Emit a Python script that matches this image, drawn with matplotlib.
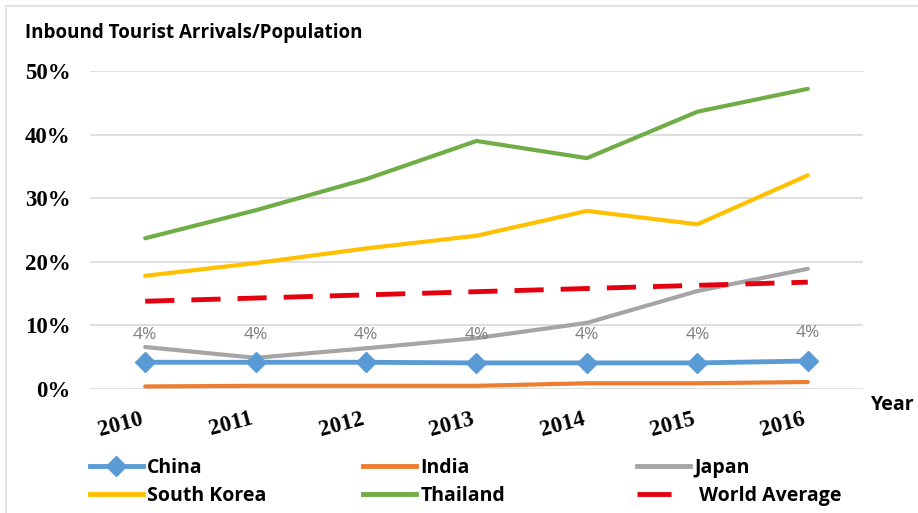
import matplotlib.pyplot as plt
from matplotlib.lines import Line2D

years = ['2010', '2011', '2012', '2013', '2014', '2015', '2016']

# arrivals as % of population
china = [4.2, 4.2, 4.2, 4.1, 4.1, 4.1, 4.4]
india = [0.4, 0.5, 0.5, 0.5, 0.9, 0.9, 1.1]
japan = [6.6, 4.9, 6.4, 8.0, 10.4, 15.4, 18.9]
south_korea = [17.8, 19.8, 22.1, 24.1, 28.0, 25.9, 33.6]
thailand = [23.7, 28.1, 33.0, 39.0, 36.3, 43.6, 47.2]
world_avg = [13.8, 14.3, 14.8, 15.3, 15.8, 16.3, 16.8]
china_labels = ['4%', '4%', '4%', '4%', '4%', '4%', '4%']

sans = ['Open Sans', 'DejaVu Sans']
serif = ['Liberation Serif', 'DejaVu Serif']

fig = plt.figure(figsize=(9.18, 5.13), dpi=100)
ax = fig.add_axes([90 / 918, 1 - 389 / 513, (863 - 90) / 918, (389 - 71) / 513])

x = list(range(len(years)))
ax.plot(x, india, color='#ED7D31', lw=3, solid_capstyle='round', zorder=3)
ax.plot(x, japan, color='#A5A5A5', lw=3, solid_capstyle='round', zorder=3)
ax.plot(x, south_korea, color='#FFC000', lw=3, solid_capstyle='round', zorder=3)
ax.plot(x, thailand, color='#70AD47', lw=3, solid_capstyle='round', zorder=3)
ax.plot(x, world_avg, color='#E3000F', lw=3.5, linestyle=(0, (6, 3.5)), zorder=3)
ax.plot(x, china, color='#5B9BD5', lw=3.5, marker='D', markersize=10, zorder=4)

for xi, v, lab in zip(x, china, china_labels):
    ax.annotate(lab, (xi, v), xytext=(0, 20), textcoords='offset points',
                ha='center', va='center', fontsize=12.5, color='#7F7F7F', family=sans)

ax.set_xlim(-0.5, len(years) - 0.5)
ax.set_ylim(0, 50)
ax.set_yticks([0, 10, 20, 30, 40, 50])
ax.set_yticklabels([f'{t}%' for t in [0, 10, 20, 30, 40, 50]],
                   family=serif, fontweight='bold', fontsize=16.5)
ax.set_xticks(x)
ax.set_xticklabels(years, family=serif, fontweight='bold', fontsize=16.5,
                   rotation=15, ha='right')
ax.tick_params(axis='y', length=0, pad=14)
ax.tick_params(axis='x', length=0, pad=14)
ax.grid(axis='y', color='#D9D9D9', lw=1.2)
ax.set_axisbelow(True)
for s in ax.spines.values():
    s.set_visible(False)

fig.text(25 / 918, 1 - 33 / 513, 'Inbound Tourist Arrivals/Population', family=sans,
         fontweight='bold', fontsize=13.5, ha='left', va='center')
fig.text(871 / 918, 1 - 405 / 513, 'Year', family=sans, fontweight='bold',
         fontsize=14, ha='left', va='center')

# legend: three columns, each its own legend
def handle(color, **kw):
    return Line2D([], [], color=color, lw=kw.pop('lw', 3.5), **kw)

columns = [
    (90, [(handle('#5B9BD5', marker='D', markersize=10), 'China'),
          (handle('#FFC000'), 'South Korea')]),
    (363, [(handle('#ED7D31'), 'India'),
           (handle('#70AD47'), 'Thailand')]),
    (637, [(handle('#A5A5A5'), 'Japan'),
           (handle('#E3000F', linestyle=(0, (7, 12))), ' World Average')]),
]
for left, entries in columns:
    fig.legend([h for h, _ in entries], [t for _, t in entries],
               loc='upper left', bbox_to_anchor=(left / 918, 1 - 458 / 513),
               frameon=False, handlelength=2.7, handletextpad=0.25,
               labelspacing=0.42, borderaxespad=0, borderpad=0,
               prop={'family': sans, 'weight': 'bold', 'size': 14})

# light frame on the left and top edges
fig.add_artist(Line2D([6 / 918, 6 / 918], [0, 1 - 6 / 513], color='#E3E3E3', lw=1.5))
fig.add_artist(Line2D([6 / 918, 1], [1 - 6 / 513, 1 - 6 / 513], color='#E3E3E3', lw=1.5))

fig.savefig('out.png', dpi=100)
